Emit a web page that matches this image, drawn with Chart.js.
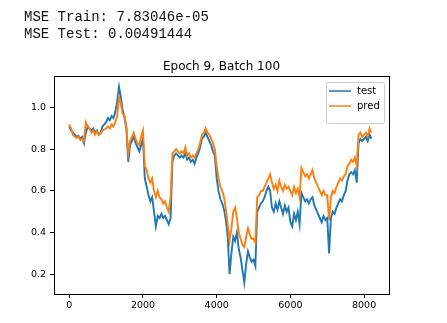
<!DOCTYPE html>
<html>
<head>
<meta charset="utf-8">
<script src="https://cdn.jsdelivr.net/npm/chart.js@4.4.1/dist/chart.umd.min.js"></script>
<style>
  html, body { margin: 0; padding: 0; background: #fff; }
  #wrap { position: relative; width: 447px; height: 323px; }
  #mse { position: absolute; left: 24px; top: 9px; font-family: "Liberation Mono", "DejaVu Sans Mono", monospace; font-size: 14px; line-height: 17px; color: #111; white-space: pre; }
  canvas { position: absolute; left: 0; top: 0; }
</style>
</head>
<body>
<div id="wrap">
  <canvas id="c" width="447" height="323"></canvas>
  <div id="mse">MSE Train: 7.83046e-05
MSE Test: 0.00491444</div>
</div>
<script>
// ---- data (sample every 50 steps) ----
const xStep = 50;
const testValues = [
  0.91,0.89,0.88,0.87,0.86,0.865,0.85,0.86,0.83,0.88,
  0.91,0.90,0.89,0.90,0.88,0.89,0.87,0.88,0.91,0.92,
  0.93,0.95,0.94,0.96,0.95,0.98,1.03,1.10,1.05,0.99,
  0.95,0.90,0.74,0.82,0.84,0.86,0.83,0.81,0.79,0.82,
  0.85,0.66,0.62,0.58,0.55,0.57,0.50,0.43,0.48,0.47,
  0.49,0.47,0.48,0.46,0.44,0.47,0.74,0.77,0.78,0.77,
  0.76,0.77,0.76,0.78,0.75,0.76,0.74,0.75,0.73,0.76,
  0.78,0.81,0.85,0.86,0.88,0.86,0.84,0.82,0.79,0.77,
  0.66,0.60,0.56,0.54,0.51,0.46,0.38,0.20,0.30,0.38,
  0.36,0.40,0.32,0.28,0.22,0.16,0.25,0.31,0.28,0.26,
  0.27,0.24,0.50,0.52,0.54,0.55,0.57,0.60,0.62,0.60,
  0.52,0.50,0.54,0.51,0.55,0.52,0.49,0.53,0.50,0.52,
  0.45,0.43,0.49,0.46,0.50,0.44,0.59,0.57,0.55,0.56,
  0.54,0.56,0.57,0.53,0.51,0.49,0.47,0.45,0.48,0.46,
  0.47,0.30,0.47,0.50,0.49,0.52,0.54,0.56,0.55,0.58,
  0.60,0.65,0.68,0.69,0.68,0.70,0.64,0.83,0.85,0.84,
  0.85,0.86,0.84,0.87,0.85
];
const predValues = [
  0.92,0.90,0.87,0.86,0.855,0.86,0.845,0.85,0.84,0.93,
  0.91,0.90,0.88,0.89,0.87,0.885,0.87,0.875,0.89,0.895,
  0.90,0.91,0.90,0.92,0.91,0.93,0.96,1.05,1.02,0.97,
  0.96,0.91,0.78,0.84,0.86,0.88,0.85,0.83,0.82,0.86,
  0.89,0.72,0.70,0.66,0.64,0.66,0.60,0.57,0.60,0.57,
  0.56,0.54,0.55,0.52,0.50,0.57,0.78,0.79,0.80,0.79,
  0.78,0.79,0.78,0.81,0.77,0.78,0.76,0.77,0.76,0.78,
  0.80,0.83,0.87,0.88,0.90,0.88,0.87,0.85,0.83,0.80,
  0.72,0.66,0.62,0.60,0.57,0.51,0.44,0.36,0.42,0.50,
  0.52,0.47,0.40,0.37,0.34,0.33,0.38,0.42,0.39,0.37,
  0.37,0.35,0.57,0.58,0.60,0.60,0.62,0.64,0.66,0.68,
  0.64,0.61,0.63,0.60,0.65,0.62,0.60,0.63,0.61,0.62,
  0.60,0.58,0.62,0.59,0.61,0.57,0.71,0.69,0.67,0.68,
  0.66,0.68,0.70,0.66,0.64,0.62,0.60,0.58,0.60,0.58,
  0.58,0.46,0.57,0.60,0.59,0.62,0.64,0.66,0.65,0.67,
  0.68,0.72,0.73,0.75,0.74,0.76,0.72,0.87,0.88,0.86,
  0.87,0.88,0.86,0.90,0.88
];
const seriesLabels = ["test", "pred"];
const xTicks = [0, 2000, 4000, 6000, 8000];
const yTicks = [0.2, 0.4, 0.6, 0.8, 1.0];
const titleText = "Epoch 9, Batch 100";

const COLORS = ["#1f77b4", "#ff7f0e"];
const toPts = arr => arr.map((v, i) => ({ x: i * xStep, y: v }));

const frame = {
  id: 'frame',
  afterDraw(chart) {
    const { ctx, chartArea: a } = chart;
    ctx.save();
    ctx.strokeStyle = '#000';
    ctx.lineWidth = 1;
    ctx.strokeRect(Math.round(a.left) + 0.5, Math.round(a.top) + 0.5,
                   Math.round(a.right - a.left), Math.round(a.bottom - a.top));
    // title
    ctx.fillStyle = '#000';
    ctx.font = '12px "DejaVu Sans"';
    ctx.textAlign = 'center';
    ctx.textBaseline = 'alphabetic';
    ctx.fillText(titleText, (a.left + a.right) / 2, a.top - 6);
    // legend
    const bx = a.right - 63, by = a.top + 6, bw = 58, bh = 41;
    ctx.fillStyle = 'rgba(255,255,255,0.8)';
    ctx.strokeStyle = '#ccc';
    ctx.beginPath();
    ctx.roundRect(bx + 0.5, by + 0.5, bw, bh, 2);
    ctx.fill(); ctx.stroke();
    ctx.font = '10px "DejaVu Sans"';
    ctx.textAlign = 'left';
    ctx.textBaseline = 'middle';
    seriesLabels.forEach((lab, k) => {
      const y = by + 9 + k * 15;
      ctx.strokeStyle = COLORS[k];
      ctx.lineWidth = 1.5;
      ctx.beginPath(); ctx.moveTo(bx + 3, y); ctx.lineTo(bx + 25, y); ctx.stroke();
      ctx.fillStyle = '#000';
      ctx.fillText(lab, bx + 31, y);
    });
    ctx.restore();
  }
};

new Chart(document.getElementById('c'), {
  type: 'line',
  data: {
    datasets: [
      { label: seriesLabels[0], data: toPts(testValues), borderColor: COLORS[0], borderWidth: 1.9, pointRadius: 0, tension: 0, order: 2 },
      { label: seriesLabels[1], data: toPts(predValues), borderColor: COLORS[1], borderWidth: 1.9, pointRadius: 0, tension: 0, order: 1 }
    ]
  },
  options: {
    responsive: false,
    animation: false,
    events: [],
    layout: { padding: { left: 0, top: 76, right: 58, bottom: 0 } },
    plugins: { legend: { display: false }, title: { display: false }, tooltip: { enabled: false } },
    scales: {
      x: {
        type: 'linear', min: -414, max: 8676,
        afterBuildTicks: s => { s.ticks = xTicks.map(v => ({ value: v })); },
        afterFit: s => { s.height = 29; },
        grid: { display: true, drawOnChartArea: false, drawTicks: true, tickLength: 4, color: '#000' },
        border: { display: false },
        ticks: { color: '#000', font: { family: 'DejaVu Sans', size: 9.5 }, padding: 2, maxRotation: 0, callback: v => String(v) }
      },
      y: {
        type: 'linear', min: 0.105, max: 1.152,
        afterBuildTicks: s => { s.ticks = yTicks.map(v => ({ value: v })); },
        afterFit: s => { s.width = 54; },
        grid: { display: true, drawOnChartArea: false, drawTicks: true, tickLength: 4, color: '#000' },
        border: { display: false },
        ticks: { color: '#000', font: { family: 'DejaVu Sans', size: 9.5 }, padding: 4, callback: v => v.toFixed(1) }
      }
    }
  },
  plugins: [frame]
});
</script>
</body>
</html>
